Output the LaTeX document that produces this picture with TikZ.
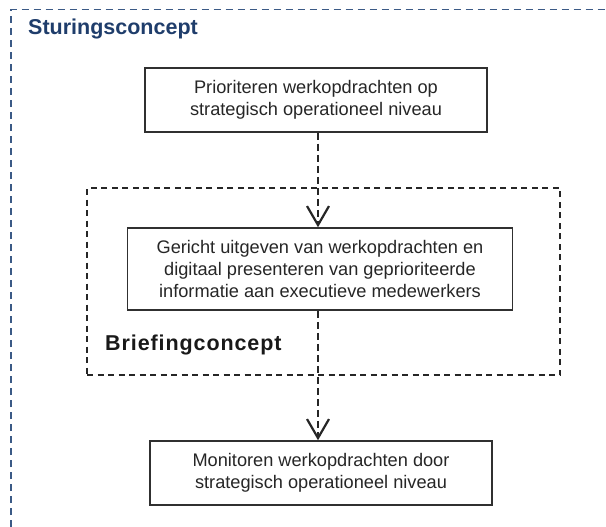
\documentclass[tikz,border=0pt]{standalone}
\usepackage{fontspec}
\setmainfont{Liberation Sans}
\usetikzlibrary{arrows.meta}
\definecolor{navy}{HTML}{1F3D6B}
\definecolor{framecol}{HTML}{3B5A86}
\definecolor{boxline}{HTML}{303030}
\begin{document}
\begin{tikzpicture}[x=1pt,y=-1pt,
  procbox/.style={draw=boxline,line width=1.5pt,fill=white,align=center,
    inner sep=0pt,font=\fontsize{18.2}{22}\selectfont,text=black!85},
  groupbox/.style={draw=black!85,line width=1.3pt,dash pattern=on 6pt off 4.5pt,inner sep=0pt},
  flowarrow/.style={draw=black!85,line width=2.6pt,dash pattern=on 7pt off 4pt,
    -{Straight Barb[length=19pt,width=22pt,line width=2.2pt]}},
  outerframe/.style={draw=framecol,line width=1.8pt,dash pattern=on 7pt off 5pt},
  lab/.style={font=\bfseries\fontsize{21.5}{24}\selectfont,inner sep=0pt}
]
\useasboundingbox (0,0) rectangle (606,527);
% outer frame (top and left visible)
\coordinate (fc) at (11,9.5);
\coordinate (ftr) at (606,9.5);
\coordinate (fbl) at (11,527);
\draw[outerframe] (fbl) -- (fc) -- (ftr);
\node[lab,text=navy,anchor=base west] (sturing) at (28,35) {Sturingsconcept};
% briefing group box
\node[groupbox,minimum width=473pt,minimum height=187pt] (brief) at (323.5,281.5) {};
\node[lab,text=black!90,anchor=base west] (brieflab) at (105,350)
  {\addfontfeature{LetterSpace=4.2}Briefingconcept};
% process boxes
\node[procbox,minimum width=342pt,minimum height=64pt] (b1) at (316,100)
  {Prioriteren werkopdrachten op\\strategisch operationeel niveau};
\node[procbox,minimum width=385pt,minimum height=82pt] (b2) at (320,269)
  {Gericht uitgeven van werkopdrachten en\\digitaal presenteren van geprioriteerde\\informatie aan executieve medewerkers};
\node[procbox,minimum width=342pt,minimum height=64pt] (b3) at (321,473)
  {Monitoren werkopdrachten door\\strategisch operationeel niveau};
% connectors
\coordinate (ax) at (318,0);
\draw[flowarrow] (b1.south -| ax) -- (b2.north -| ax);
\draw[flowarrow] (b2.south -| ax) -- (b3.north -| ax);
\end{tikzpicture}
\end{document}
